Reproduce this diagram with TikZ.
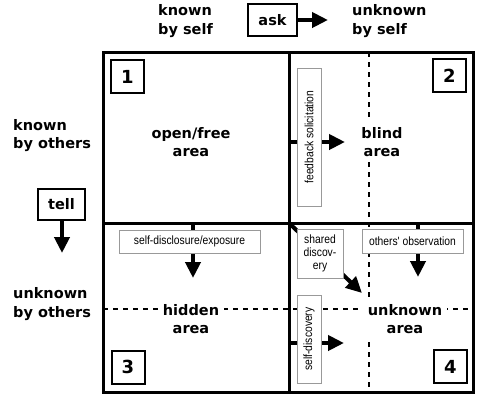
\documentclass[tikz,border=0pt]{standalone}
\usepackage{fontspec}
\setmainfont{DejaVu Sans}
\newfontfamily\smallfont[FakeStretch=0.86]{Liberation Sans}
\usetikzlibrary{arrows.meta}
\tikzset{
  bigtext/.style={font=\bfseries\fontsize{14.5}{18.5}\selectfont, inner sep=0pt},
  arealabel/.style={bigtext, align=center, fill=white, inner sep=5pt},
  sidelabel/.style={bigtext, align=left, anchor=west},
  numbox/.style={draw, line width=2pt, minimum width=33pt, minimum height=33pt, inner sep=0pt, font=\bfseries\fontsize{18}{20}\selectfont},
  actbox/.style={draw, line width=1.4pt, fill=white, inner sep=0pt, font=\bfseries\fontsize{14.5}{18}\selectfont},
  graybox/.style={draw=black!40, line width=1pt, fill=white, inner sep=0pt, align=center, font=\smallfont\fontsize{12}{13}\selectfont},
  thickarrow/.style={line width=4pt, -{Triangle[length=16pt,width=15pt]}},
  divline/.style={line width=3pt},
  dashline/.style={line width=1.3pt, dash pattern=on 5pt off 5pt},
}
\begin{document}
\begin{tikzpicture}[x=1pt,y=-1pt]
\useasboundingbox (0,0) rectangle (480,400);
% grid corners
\coordinate (TL) at (103,52);
\coordinate (BR) at (473,392);
\coordinate (midT) at (289,52);
\coordinate (midB) at (289,392);
\coordinate (midL) at (103,223);
\coordinate (midR) at (473,223);
\coordinate (dT) at (369,52);
\coordinate (dB) at (369,392);
\coordinate (dL) at (103,309);
\coordinate (dR) at (473,309);
% dashed lines
\draw[dashline] (dT) -- (dB);
\draw[dashline] (dL) -- (dR);
% dividers
\draw[divline] (midT) -- (midB);
\draw[divline] (midL) -- (midR);
% area labels
\node[arealabel] (open) at (191,142) {open/free\\area};
\node[arealabel] (blind) at (382,142) {blind\\area};
\node[arealabel] (hidden) at (191,319) {hidden\\area};
\node[arealabel] (unknown) at (405,319) {unknown\\area};
% side labels
\node[sidelabel] (kself) at (158,21) {known\\by self};
\node[sidelabel] (uself) at (352,21) {unknown\\by self};
\node[sidelabel] (kothers) at (13,135.5) {known\\by others};
\node[sidelabel] (uothers) at (13,304) {unknown\\by others};
% ask / tell
\node[actbox, minimum width=49pt, minimum height=32pt] (ask) at (272.5,20) {ask};
\coordinate (askT) at (328,20);
\draw[thickarrow] (ask.east) -- (askT);
\node[actbox, minimum width=47pt, minimum height=31pt] (tell) at (61.5,204.5) {tell};
\coordinate (tellT) at (62,253);
\draw[thickarrow] (tell.south -| tellT) -- (tellT);
% arrows inside grid
\coordinate (fbS) at (289,142);   \coordinate (fbT) at (345,142);
\coordinate (sdS) at (193,223);   \coordinate (sdT) at (193,278);
\coordinate (obS) at (418,223);   \coordinate (obT) at (418,277);
\coordinate (shS) at (289,223);   \coordinate (shT) at (362,293);
\coordinate (dsS) at (289,343);   \coordinate (dsT) at (344,343);
\draw[thickarrow] (fbS) -- (fbT);
\draw[thickarrow] (sdS) -- (sdT);
\draw[thickarrow] (obS) -- (obT);
\draw[thickarrow] (shS) -- (shT);
\draw[thickarrow] (dsS) -- (dsT);
% gray boxes
\node[graybox, rotate=90, minimum width=138pt, minimum height=24pt] (fb) at (309,137) {feedback solicitation};
\node[graybox, minimum width=141pt, minimum height=23pt] (sd) at (189.5,241.5) {self-disclosure/exposure};
\node[graybox, minimum width=101pt, minimum height=24pt] (ob) at (412.5,241) {others' observation};
\node[graybox, minimum width=46pt, minimum height=49pt] (sh) at (320,253.5) {shared\\discov-\\ery};
\node[graybox, rotate=90, minimum width=88pt, minimum height=24pt] (ds) at (309,339) {self-discovery};
% number boxes
\node[numbox] (n1) at (127.5,76.5) {1};
\node[numbox] (n2) at (449.5,75.5) {2};
\node[numbox] (n3) at (128,367) {3};
\node[numbox] (n4) at (450.5,366.5) {4};
% outer frame
\draw[divline] (TL) rectangle (BR);
\end{tikzpicture}
\end{document}
